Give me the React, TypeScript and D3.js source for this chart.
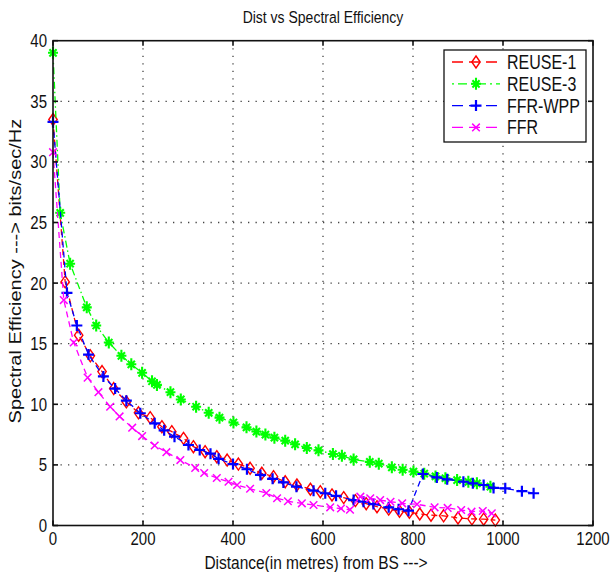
import React from "react";
import * as d3 from "d3";

const titleText = "Dist vs Spectral Efficiency";
const xLabelText = "Distance(in metres) from BS --->";
const yLabelText = "Spectral Efficiency ---> bits/sec/Hz";

const xTicks = [0, 200, 400, 600, 800, 1000, 1200];
const yTicks = [0, 5, 10, 15, 20, 25, 30, 35, 40];

const seriesNames = ["REUSE-1", "REUSE-3", "FFR-WPP", "FFR"];
const seriesColors = ["#ff0000", "#00ff00", "#0000ff", "#ff00ff"];
const seriesMarkers = ["diamond", "asterisk", "plus", "cross"];
const seriesDashes = ["6,4", "7,3,1.5,3", "6,4", "6,4"];

const reuse1Dist = [0, 27, 57, 83, 109, 135, 163, 190, 216, 242, 264, 290, 312, 338, 364, 387, 412, 438, 464, 490, 516, 542, 572, 594, 620, 646, 672, 696, 720, 746, 770, 792, 815, 840, 868, 900, 931, 957, 983];
const reuse1Val = [33.5, 20.1, 15.7, 14.0, 12.7, 11.3, 10.2, 9.3, 8.9, 8.15, 7.74, 7.19, 6.5, 6.09, 5.68, 5.4, 5.07, 4.72, 4.31, 4.03, 3.61, 3.34, 2.99, 2.79, 2.52, 2.3, 2.05, 1.8, 1.55, 1.35, 1.18, 1.1, 0.95, 0.85, 0.8, 0.62, 0.55, 0.52, 0.45];

const reuse3Dist = [0, 16, 38, 75, 96, 124, 152, 174, 198, 220, 231, 261, 284, 318, 346, 370, 401, 430, 452, 472, 492, 516, 538, 564, 590, 622, 642, 668, 704, 724, 753, 777, 801, 825, 850, 872, 898, 923, 942, 972];
const reuse3Val = [39.0, 25.8, 21.6, 18.0, 16.5, 15.1, 14.0, 13.3, 12.6, 11.9, 11.6, 11.0, 10.4, 9.8, 9.3, 8.9, 8.5, 8.1, 7.75, 7.5, 7.25, 7.0, 6.7, 6.4, 6.2, 5.9, 5.75, 5.45, 5.25, 5.1, 4.8, 4.6, 4.45, 4.28, 4.05, 3.9, 3.75, 3.6, 3.48, 3.2];

const ffrWppDist = [0, 31, 53, 79, 112, 138, 163, 194, 226, 247, 270, 301, 326, 350, 368, 400, 431, 461, 488, 512, 541, 579, 605, 629, 668, 690, 712, 746, 768, 790, 822, 853, 876, 912, 933, 957, 979, 1005, 1042, 1068];
const ffrWppVal = [33.3, 19.2, 16.5, 14.1, 12.3, 11.3, 10.3, 9.26, 8.43, 7.85, 7.33, 6.64, 6.23, 5.93, 5.5, 5.07, 4.64, 4.17, 3.85, 3.55, 3.2, 2.87, 2.66, 2.45, 2.1, 1.96, 1.77, 1.5, 1.34, 1.22, 4.25, 3.97, 3.81, 3.61, 3.48, 3.34, 3.1, 3.07, 2.83, 2.66];

const ffrDist = [0, 24, 46, 77, 101, 127, 148, 176, 198, 226, 252, 283, 316, 336, 364, 390, 409, 438, 474, 498, 522, 553, 579, 616, 640, 660, 683, 705, 727, 750, 776, 809, 848, 877, 907, 930, 955, 975];
const ffrVal = [30.8, 18.6, 15.1, 12.2, 11.0, 9.8, 9.0, 8.07, 7.38, 6.6, 6.05, 5.4, 4.75, 4.33, 3.92, 3.61, 3.34, 3.03, 2.68, 2.25, 2.0, 1.83, 1.69, 1.5, 1.4, 1.3, 2.38, 2.24, 2.1, 1.96, 1.83, 1.75, 1.5, 1.45, 1.28, 1.14, 1.2, 1.0];

const seriesDist = [reuse1Dist, reuse3Dist, ffrWppDist, ffrDist];
const seriesVal = [reuse1Val, reuse3Val, ffrWppVal, ffrVal];

const W = 612;
const H = 572;
const left = 53;
const right = 593;
const top = 40.7;
const bottom = 525.5;
const FONT = "'Liberation Sans', Arial, Helvetica, sans-serif";
const VS = 1.22;

function Marker({ type, x, y, color }: { type: string; x: number; y: number; color: string }) {
  if (type === "diamond") {
    const w = 4.2, h = 6;
    return <path d={`M${x},${y - h}L${x + w},${y}L${x},${y + h}L${x - w},${y}Z`} fill="none" stroke={color} strokeWidth={1.4} />;
  }
  if (type === "plus") {
    const s = 5.5;
    return <path d={`M${x - s},${y}H${x + s}M${x},${y - s}V${y + s}`} stroke={color} strokeWidth={2.2} fill="none" />;
  }
  if (type === "cross") {
    const s = 3.8;
    return <path d={`M${x - s},${y - s}L${x + s},${y + s}M${x - s},${y + s}L${x + s},${y - s}`} stroke={color} strokeWidth={1.5} fill="none" />;
  }
  const s = 5, d = 3.6;
  return (
    <path
      d={`M${x - s},${y}H${x + s}M${x},${y - s - 1}V${y + s + 1}M${x - d},${y - d}L${x + d},${y + d}M${x - d},${y + d}L${x + d},${y - d}`}
      stroke={color}
      strokeWidth={2.1}
      fill="none"
    />
  );
}

function SText({ x, y, size, anchor, children }: { x: number; y: number; size: number; anchor?: string; children: React.ReactNode }) {
  return (
    <text transform={`translate(${x},${y}) scale(1,${VS})`} fontSize={size} textAnchor={anchor || "start"} fill="#111">
      {children}
    </text>
  );
}

export default function App() {
  const x = d3.scaleLinear().domain([0, 1200]).range([left, right]);
  const y = d3.scaleLinear().domain([0, 40]).range([bottom, top]);
  const line = d3
    .line<[number, number]>()
    .x((d) => x(d[0]))
    .y((d) => y(d[1]));

  const legendX = 444, legendY = 50, legendW = 142, legendH = 92;
  const entryY0 = 62, entryStep = 21.8;

  return (
    <svg width={W} height={H} style={{ position: "absolute", left: 0, top: 0, background: "#fff" }} fontFamily={FONT}>
      <rect x={0} y={0} width={W} height={H} fill="#fff" />
      {/* grid */}
      {xTicks.slice(1, -1).map((t) => (
        <line key={"gx" + t} x1={x(t)} x2={x(t)} y1={top} y2={bottom} stroke="#444" strokeWidth={1.3} strokeDasharray="1.3,6.2" />
      ))}
      {yTicks.slice(1, -1).map((t) => (
        <line key={"gy" + t} x1={left} x2={right} y1={y(t)} y2={y(t)} stroke="#444" strokeWidth={1.3} strokeDasharray="1.3,6.2" />
      ))}
      {/* series */}
      {seriesNames.map((name, i) => {
        const pts: [number, number][] = seriesDist[i].map((d, j) => [d, seriesVal[i][j]]);
        return (
          <g key={name}>
            <path d={line(pts) || ""} fill="none" stroke={seriesColors[i]} strokeWidth={1.3} strokeDasharray={seriesDashes[i]} />
            {pts.map((p, j) => (
              <Marker key={j} type={seriesMarkers[i]} x={x(p[0])} y={y(p[1])} color={seriesColors[i]} />
            ))}
          </g>
        );
      })}
      {/* axes box */}
      <rect x={left} y={top} width={right - left} height={bottom - top} fill="none" stroke="#111" strokeWidth={1.6} />
      {xTicks.map((t) => (
        <g key={"tx" + t}>
          <line x1={x(t)} x2={x(t)} y1={bottom} y2={bottom - 5} stroke="#111" strokeWidth={1.6} />
          <line x1={x(t)} x2={x(t)} y1={top} y2={top + 5} stroke="#111" strokeWidth={1.6} />
          <SText x={x(t)} y={545} size={15} anchor="middle">{t}</SText>
        </g>
      ))}
      {yTicks.map((t) => (
        <g key={"ty" + t}>
          <line x1={left} x2={left + 5} y1={y(t)} y2={y(t)} stroke="#111" strokeWidth={1.6} />
          <line x1={right} x2={right - 5} y1={y(t)} y2={y(t)} stroke="#111" strokeWidth={1.6} />
          <SText x={47} y={y(t) + 6.5} size={15} anchor="end">{t}</SText>
        </g>
      ))}
      {/* title and labels */}
      <SText x={(left + right) / 2} y={23} size={14} anchor="middle">{titleText}</SText>
      <SText x={(left + right) / 2 - 7} y={569} size={15.5} anchor="middle">{xLabelText}</SText>
      <text transform={`translate(21,${(top + bottom) / 2 - 12}) scale(1,1.25) rotate(-90)`} fontSize={16} textAnchor="middle" fill="#111">
        {yLabelText}
      </text>
      {/* legend */}
      <rect x={legendX} y={legendY} width={legendW} height={legendH} fill="#fff" stroke="#111" strokeWidth={1.3} />
      {seriesNames.map((name, i) => {
        const ly = entryY0 + i * entryStep;
        return (
          <g key={"lg" + name}>
            <line x1={452} x2={500} y1={ly} y2={ly} stroke={seriesColors[i]} strokeWidth={1.3} strokeDasharray={i === 1 ? "2,4,9,4" : "11,6"} />
            <Marker type={seriesMarkers[i]} x={476} y={ly} color={seriesColors[i]} />
            <SText x={507} y={ly + 7} size={16}>{name}</SText>
          </g>
        );
      })}
    </svg>
  );
}
